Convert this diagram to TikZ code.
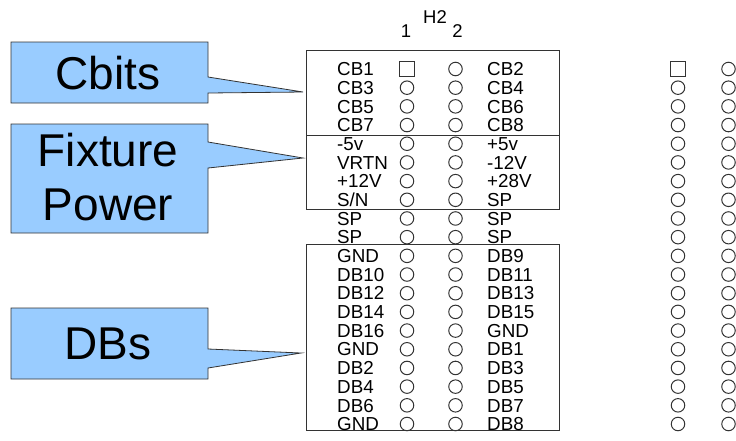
\documentclass[tikz,border=0pt]{standalone}
\usepackage{fontspec}
\setmainfont{Liberation Sans}
\definecolor{callfill}{HTML}{99CCFF}
\definecolor{lineg}{HTML}{333333}
\begin{document}
\begin{tikzpicture}[x=1pt,y=-1pt,
  pinlabel/.style={font=\fontsize{18.8}{18.8}\selectfont, inner sep=0pt, anchor=base west},
  pinc/.style={draw=lineg, line width=1pt, circle, minimum size=13.5pt, inner sep=0pt},
  pins/.style={draw=lineg, line width=1pt, rectangle, minimum size=15pt, inner sep=0pt},
  callout/.style={fill=callfill, draw=lineg, line width=0.8pt, line join=miter},
  calltext/.style={font=\fontsize{46}{54}\selectfont, align=center, inner sep=0pt},
  grp/.style={draw=lineg, line width=1pt, inner sep=0pt, anchor=north west},
  hdr/.style={font=\fontsize{18.5}{18.5}\selectfont, inner sep=0pt}
]
\useasboundingbox (0,0) rectangle (736,440);

% callouts
\draw[callout] (11,42) -- (208,42) -- (208,77) -- (303,92) -- (208,93) -- (208,103) -- (11,103) -- cycle;
\node[calltext] (cbits) at (108,73) {Cbits};
\draw[callout] (11,124) -- (208,124) -- (208,142) -- (303,158) -- (208,168) -- (208,233) -- (11,233) -- cycle;
\node[calltext] (fixt) at (108,177) {Fixture\\Power};
\draw[callout] (11,308) -- (208,308) -- (208,349) -- (301,353) -- (208,368) -- (208,379) -- (11,379) -- cycle;
\node[calltext] (dbs) at (108,344) {DBs};

% group boxes
\node[grp, minimum width=253pt, minimum height=85pt] (gA) at (306,50) {};
\node[grp, minimum width=253pt, minimum height=74pt] (gB) at (306,135) {};
\node[grp, minimum width=253pt, minimum height=186pt] (gC) at (306,244) {};

% header
\node[hdr] (h2) at (435,17) {H2};
\node[hdr] (n1) at (406,31) {1};
\node[hdr] (n2) at (457.5,31) {2};

% left labels
\foreach [count=\i from 0] \lab in {CB1,CB3,CB5,CB7,-5v,VRTN,+12V,S/N,SP,SP,GND,DB10,DB12,DB14,DB16,GND,DB2,DB4,DB6,GND}
  \node[pinlabel] (L\i) at (337,{69+\i*18.684+6.7}) {\lab};
% right labels
\foreach [count=\i from 0] \lab in {CB2,CB4,CB6,CB8,+5v,-12V,+28V,SP,SP,SP,DB9,DB11,DB13,DB15,GND,DB1,DB3,DB5,DB7,DB8}
  \node[pinlabel] (R\i) at (487,{69+\i*18.684+6.7}) {\lab};

% pins
\node[pins] (pa0) at (407,69) {};
\node[pins] (qa0) at (678,69) {};
\foreach \i in {1,...,19} {
  \node[pinc] (pa\i) at (407,{69+\i*18.684}) {};
  \node[pinc] (qa\i) at (678,{69+\i*18.684}) {};
}
\foreach \i in {0,...,19} {
  \node[pinc] (pb\i) at (455.5,{69+\i*18.684}) {};
  \node[pinc] (qb\i) at (728.5,{69+\i*18.684}) {};
}
\end{tikzpicture}
\end{document}
